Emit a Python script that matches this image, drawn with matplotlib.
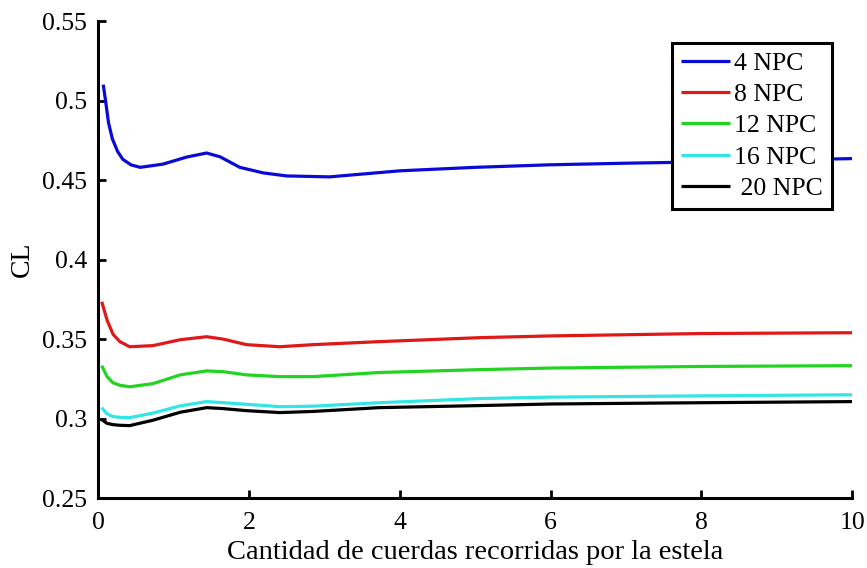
import matplotlib
matplotlib.use('Agg')
import matplotlib.pyplot as plt

plt.rcParams['font.family'] = ['Liberation Serif', 'DejaVu Serif']

# values
x_blue = [0.07, 0.1, 0.14, 0.19, 0.26, 0.33, 0.44, 0.56, 0.86, 1.18, 1.44, 1.62, 1.88, 2.19, 2.5, 3.07,
          4, 5, 6, 7, 8, 9, 10]
cl_4 = [0.510, 0.500, 0.486, 0.476, 0.468, 0.463, 0.4595, 0.458, 0.460, 0.4645, 0.467, 0.4646, 0.458,
        0.4545, 0.4526, 0.452, 0.4558, 0.458, 0.4596, 0.4606, 0.4614, 0.4625, 0.4635]

x_rest = [0.05, 0.12, 0.2, 0.29, 0.42, 0.73, 1.09, 1.44, 1.66, 1.97, 2.41, 2.85, 3.73, 5.06, 6, 8, 10]
cl_8 = [0.3735, 0.362, 0.353, 0.3484, 0.3452, 0.3459, 0.3496, 0.3515, 0.350, 0.3465, 0.3452, 0.3465,
        0.3484, 0.3509, 0.352, 0.3535, 0.354]
cl_12 = [0.3333, 0.3264, 0.3225, 0.321, 0.320, 0.322, 0.3275, 0.330, 0.3295, 0.3275, 0.3264, 0.3264,
         0.329, 0.3308, 0.3318, 0.3328, 0.3333]
cl_16 = [0.3069, 0.303, 0.3013, 0.3008, 0.3006, 0.3035, 0.308, 0.3107, 0.310, 0.309, 0.3075, 0.3078,
         0.310, 0.3126, 0.3135, 0.3143, 0.315]
cl_20 = [0.2994, 0.297, 0.2962, 0.2958, 0.2956, 0.299, 0.304, 0.3069, 0.3063, 0.305, 0.3038, 0.3045,
         0.3069, 0.3082, 0.3092, 0.310, 0.3107]

labels = ['4 NPC', '8 NPC', '12 NPC', '16 NPC', ' 20 NPC']
colors = ['#0a0ad8', '#e01818', '#22d422', '#33e6e6', '#000000']

fig = plt.figure(figsize=(8.67, 5.68), dpi=100)
ax = fig.add_axes([0.113, 0.123, 0.870, 0.840])

series = [(x_blue, cl_4), (x_rest, cl_8), (x_rest, cl_12), (x_rest, cl_16), (x_rest, cl_20)]
for (xs, ys), lab, col in zip(series, labels, colors):
    ax.plot(xs, ys, color=col, lw=2.3, label=lab, solid_capstyle='butt')

ax.set_xlim(0, 10)
ax.set_ylim(0.25, 0.55)
ax.set_xticks([0, 2, 4, 6, 8, 10])
ax.set_yticks([0.25, 0.3, 0.35, 0.4, 0.45, 0.5, 0.55])
ax.set_yticklabels(['0.25', '0.3', '0.35', '0.4', '0.45', '0.5', '0.55'])
ax.tick_params(direction='in', length=6, width=2, labelsize=18.5)
ax.tick_params(axis='y', pad=8)
ax.tick_params(axis='x', pad=10)

for side in ['top', 'right']:
    ax.spines[side].set_visible(False)
for side in ['left', 'bottom']:
    ax.spines[side].set_linewidth(2.2)

ax.set_xlabel('Cantidad de cuerdas recorridas por la estela', fontsize=20.5, labelpad=4)
ax.set_ylabel('CL', fontsize=20, labelpad=5)

leg = ax.legend(loc='upper right', bbox_to_anchor=(0.973, 0.954), fontsize=18.5, frameon=True,
                fancybox=False, handlelength=1.9, handletextpad=0.15, borderpad=0.35,
                labelspacing=0.32, borderaxespad=0)
leg.get_frame().set_edgecolor('black')
leg.get_frame().set_linewidth(2.2)
leg.get_frame().set_alpha(1)

fig.savefig('out.png', dpi=100)
